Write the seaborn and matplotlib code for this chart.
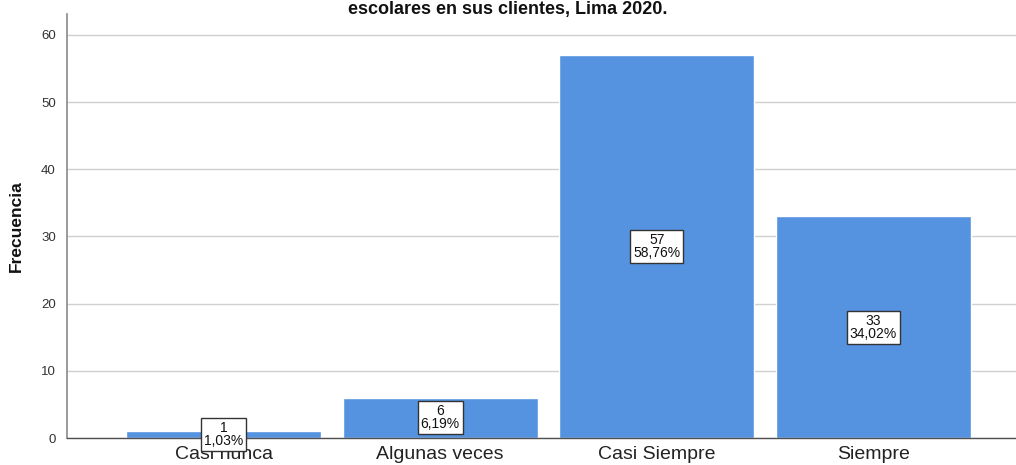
import matplotlib
matplotlib.use("Agg")
import matplotlib.pyplot as plt
import seaborn as sns
import pandas as pd

categorias = ["Casi nunca", "Algunas veces", "Casi Siempre", "Siempre"]
frecuencias = [1, 6, 57, 33]
y_ticks = [0, 10, 20, 30, 40, 50, 60]
titulo = "escolares en sus clientes, Lima 2020."
eje_y = "Frecuencia"

sns.set_theme(style="white")
plt.rcParams["font.family"] = ["Liberation Sans", "DejaVu Sans"]

df = pd.DataFrame({"categoria": categorias, "frecuencia": frecuencias})
total = sum(frecuencias)

fig = plt.figure(figsize=(10.16, 4.65), dpi=100)
ax = fig.add_axes([67 / 1016, 27 / 465, 949 / 1016, 424 / 465])

sns.barplot(data=df, x="categoria", y="frecuencia", color="#5592E0",
            saturation=1, width=0.9, ax=ax, zorder=2)

ax.set_xlim(-0.723, 3.658)
ax.set_ylim(0, 63.1)
ax.set_yticks(y_ticks)
ax.yaxis.grid(True, color="#cfcfcf", linewidth=1, zorder=0)
ax.set_axisbelow(True)

for side in ("top", "right"):
    ax.spines[side].set_visible(False)
ax.spines["left"].set_color("#8a8a8a")
ax.spines["left"].set_linewidth(1.2)
ax.spines["bottom"].set_color("#505050")
ax.spines["bottom"].set_linewidth(1.0)

ax.tick_params(axis="y", length=0, pad=8, labelsize=9.5, labelcolor="#333333")
ax.tick_params(axis="x", length=0, pad=6, labelsize=14, labelcolor="#222222")
ax.set_xlabel("")
ax.set_ylabel(eje_y, fontsize=12.5, fontweight="bold", color="#111111", labelpad=12)

for i, v in enumerate(frecuencias):
    pct = f"{100 * v / total:.2f}".replace(".", ",") + "%"
    ax.text(i, v / 2, f"{v}\n{pct}", ha="center", va="center", fontsize=10,
            color="#111111", linespacing=0.9, zorder=5,
            bbox=dict(boxstyle="square,pad=0.22", fc="white", ec="#333333", lw=1))

fig.text(0.5, 1 - 1 / 465, titulo, ha="center", va="top", fontsize=13,
         fontweight="bold", color="#111111")

fig.savefig("out.png", dpi=100)
